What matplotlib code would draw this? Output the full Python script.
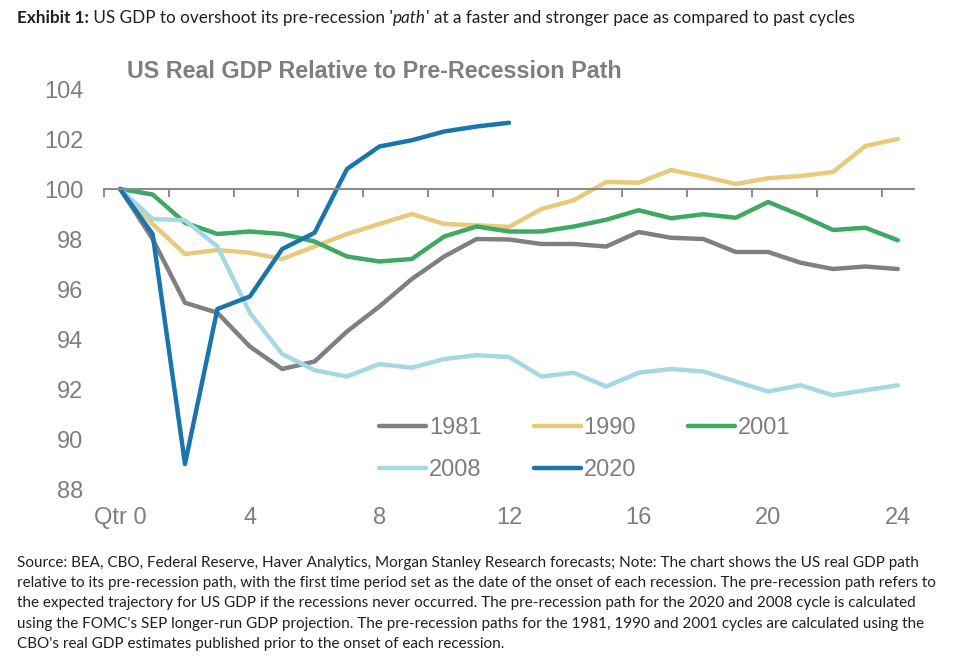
import numpy as np
import matplotlib
matplotlib.use("Agg")
import matplotlib.pyplot as plt

# Quarters since the onset of each recession
quarters = np.arange(25)
quarters_2020 = np.arange(13)

# Real GDP relative to pre-recession path
gdp_1981 = [100, 98.0, 95.45, 95.05, 93.7, 92.8, 93.1, 94.3, 95.3, 96.4, 97.3, 98.0, 97.98,
            97.8, 97.8, 97.7, 98.28, 98.05, 98.0, 97.48, 97.48, 97.05, 96.8, 96.9, 96.8]
gdp_1990 = [100, 98.6, 97.4, 97.56, 97.45, 97.2, 97.7, 98.2, 98.6, 99.0, 98.6, 98.55, 98.48,
            99.2, 99.55, 100.28, 100.25, 100.76, 100.5, 100.2, 100.43, 100.52, 100.68, 101.72, 102.0]
gdp_2001 = [100, 99.78, 98.65, 98.2, 98.3, 98.2, 97.9, 97.3, 97.1, 97.2, 98.1, 98.5, 98.3,
            98.3, 98.5, 98.77, 99.15, 98.83, 98.99, 98.85, 99.48, 98.95, 98.36, 98.45, 97.95]
gdp_2008 = [100, 98.8, 98.75, 97.7, 95.05, 93.4, 92.75, 92.5, 93.0, 92.85, 93.2, 93.35, 93.28,
            92.5, 92.65, 92.1, 92.65, 92.8, 92.7, 92.3, 91.9, 92.15, 91.75, 91.95, 92.15]
gdp_2020 = [100, 98.2, 89.0, 95.2, 95.7, 97.6, 98.25, 100.8, 101.7, 101.95, 102.3, 102.5, 102.65]

x_ticks = [0, 4, 8, 12, 16, 20, 24]
x_labels = ["Qtr 0", "4", "8", "12", "16", "20", "24"]
y_ticks = [88, 90, 92, 94, 96, 98, 100, 102, 104]
cat_edges = np.arange(-0.5, 24, 2)

c_1981 = "#808080"
c_1990 = "#E9CA7B"
c_2001 = "#3FA862"
c_2008 = "#A5D8E2"
c_2020 = "#1B75AD"
grey_txt = "#7F7F7F"
axis_grey = "#8C8C8C"

header = [("Exhibit 1:", "bold", "normal"),
          (" US GDP to overshoot its pre-recession '", "normal", "normal"),
          ("path", "normal", "italic"),
          ("' at a faster and stronger pace as compared to past cycles", "normal", "normal")]

note_lines = [
    "Source: BEA, CBO, Federal Reserve, Haver Analytics, Morgan Stanley Research forecasts; Note: The chart shows the US real GDP path",
    "relative to its pre-recession path, with the first time period set as the date of the onset of each recession. The pre-recession path refers to",
    "the expected trajectory for US GDP if the recessions never occurred. The pre-recession path for the 2020 and 2008 cycle is calculated",
    "using the FOMC's SEP longer-run GDP projection. The pre-recession paths for the 1981, 1990 and 2001 cycles are calculated using the",
    "CBO's real GDP estimates published prior to the onset of each recession.",
]

plt.rcParams['font.family'] = ['Liberation Sans', 'DejaVu Sans']

fig = plt.figure(figsize=(9.62, 6.64), dpi=100)
W, H = 962, 664
ax = fig.add_axes([104 / W, 1 - 489 / H, 810 / W, 400 / H])

lw = 3.2
l81, = ax.plot(quarters, gdp_1981, color=c_1981, lw=lw, label="1981", solid_capstyle='round')
l90, = ax.plot(quarters, gdp_1990, color=c_1990, lw=lw, label="1990", solid_capstyle='round')
l01, = ax.plot(quarters, gdp_2001, color=c_2001, lw=lw, label="2001", solid_capstyle='round')
l08, = ax.plot(quarters, gdp_2008, color=c_2008, lw=lw, label="2008", solid_capstyle='round')
l20, = ax.plot(quarters_2020, gdp_2020, color=c_2020, lw=lw, label="2020", solid_capstyle='round')

ax.set_xlim(-0.5, 24.5)
ax.set_ylim(88, 104)
for s in ('top', 'left', 'right'):
    ax.spines[s].set_visible(False)

# main x axis: line crossing at 100 with ticks between categories
ax.spines['bottom'].set_position(('data', 100))
ax.spines['bottom'].set_color(axis_grey)
ax.spines['bottom'].set_linewidth(1.5)
ax.set_xticks(cat_edges)
ax.xaxis.set_ticks_position('bottom')
ax.tick_params(axis='x', which='major', direction='out', length=5.5, width=1.4,
               color=axis_grey, labelbottom=False, bottom=True)

# labels along the bottom
lab = ax.secondary_xaxis('bottom')
lab.set_xticks(x_ticks)
lab.set_xticklabels(x_labels)
lab.spines['bottom'].set_visible(False)
lab.tick_params(axis='x', length=0, labelsize=17, labelcolor=grey_txt, pad=13)

ax.set_yticks(y_ticks)
ax.tick_params(axis='y', length=0, labelsize=17, labelcolor=grey_txt, pad=15)

# legend: row-major order via column-major reordering
handles = [l81, l08, l90, l20, l01]
ax.legend(handles=handles, labels=[h.get_label() for h in handles], ncol=3,
          loc='upper left', bbox_to_anchor=((379 - 104) / 810, (489 - 417) / 400),
          frameon=False, fontsize=17, labelcolor=grey_txt, handlelength=2.0,
          handletextpad=0.12, columnspacing=2.2, labelspacing=0.85,
          borderpad=0, borderaxespad=0)

fig.text(127 / W, 1 - 71 / H, "US Real GDP Relative to Pre-Recession Path", fontsize=16.8,
         fontweight='bold', color=grey_txt, va='center', ha='left')

# header with mixed styles
renderer = fig.canvas.get_renderer()
x = 17 / W
for txt, weight, style in header:
    t = fig.text(x, 1 - 18 / H, txt, fontsize=12.3, family='Lato', fontweight=weight,
                 fontstyle=style, color="#231F20", va='center', ha='left')
    bb = t.get_window_extent(renderer=renderer)
    x += bb.width / W

for i, line in enumerate(note_lines):
    fig.text(17 / W, 1 - (562.5 + 20.4 * i) / H, line, fontsize=11, family='Lato',
             color="#231F20", va='center', ha='left')

fig.savefig("out.png", dpi=100, facecolor='white')
